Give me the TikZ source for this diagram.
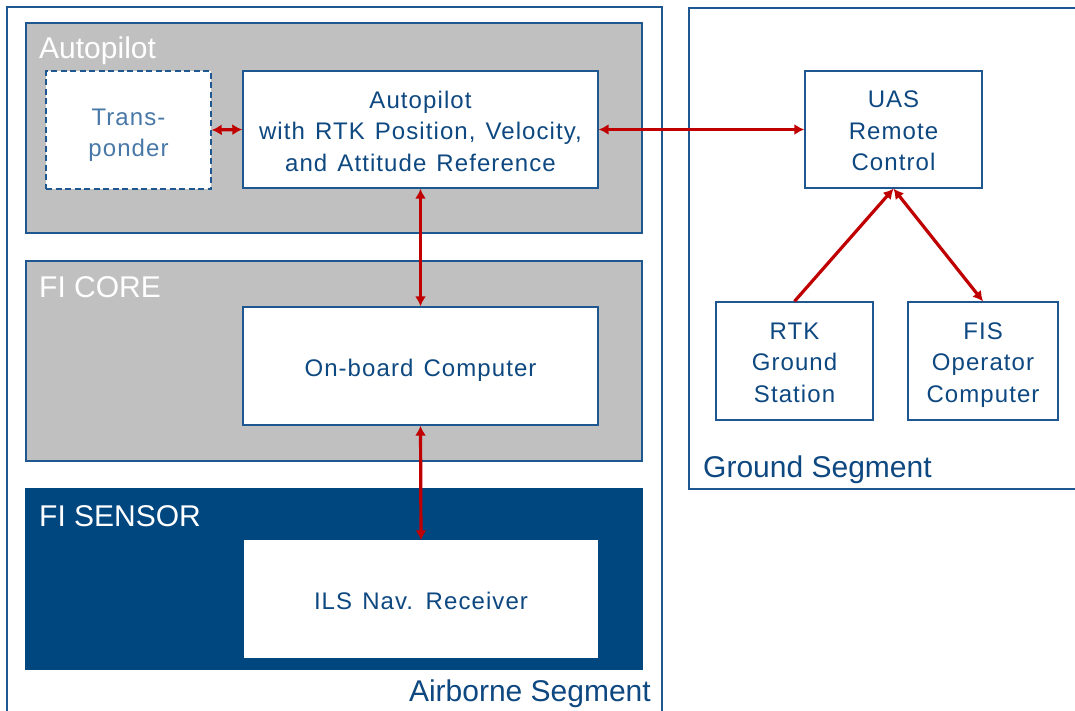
\documentclass[tikz,border=0pt]{standalone}
\usepackage{fontspec}
\setmainfont{Liberation Sans}
\newfontfamily\boxfont[LetterSpace=4.5,WordSpace=1.3]{Liberation Sans}
\usetikzlibrary{arrows.meta}
\definecolor{lineblue}{RGB}{31,88,145}
\definecolor{textblue}{RGB}{14,72,128}
\definecolor{lightblue}{RGB}{72,120,168}
\definecolor{grayfill}{RGB}{192,192,192}
\definecolor{darkfill}{RGB}{0,70,127}
\definecolor{arrowred}{RGB}{192,0,0}
\newcommand\mybstrut{\rule[-7pt]{0pt}{34pt}}
\begin{document}
\begin{tikzpicture}[x=1pt,y=-1pt,
  box/.style={draw=lineblue, line width=1.4pt, fill=white, text=textblue, align=center,
    font=\boxfont\fontsize{24}{31.5}\selectfont, inner sep=0pt,
    execute at begin node=\mybstrut, execute at end node=\mybstrut},
  boxtext/.style={text=textblue, align=center, font=\boxfont\fontsize{24}{31.5}\selectfont,
    inner sep=0pt, yshift=-5pt,
    execute at begin node=\mybstrut, execute at end node=\mybstrut},
  group/.style={draw=lineblue, line width=1.4pt, inner sep=0pt},
  heading/.style={text=white, font=\fontsize{30}{34}\selectfont, inner sep=0pt, anchor=base west},
  seglabel/.style={text=textblue, font=\fontsize{30}{34}\selectfont, inner sep=0pt},
  link/.style={draw=arrowred, line width=3.2pt, {Latex[length=10pt,width=11pt]}-{Latex[length=10pt,width=11pt]}},
  onelink/.style={draw=arrowred, line width=3.2pt, -{Latex[length=10pt,width=11pt]}}
]
\useasboundingbox (0,0) rectangle (1075,710);
\fill[white] (0,0) rectangle (1075,710);
% segment frames
\draw[lineblue, line width=1.4pt] (7,715) -- (7,7) -- (662,7) -- (662,715);
\draw[lineblue, line width=1.4pt] (1080,8) -- (689,8) -- (689,489) -- (1080,489);
% groups
\node[group, fill=grayfill, minimum width=616, minimum height=210] (gap) at (334,128) {};
\node[group, fill=grayfill, minimum width=616, minimum height=200] (gcore) at (334,361) {};
\node[group, draw=darkfill, fill=darkfill, minimum width=616, minimum height=180] (gsens) at (334,579) {};
\node[heading] (hap) at (39,58) {Autopilot};
\node[heading] (hcore) at (39,297) {FI CORE};
\node[heading] (hsens) at (39,526) {FI SENSOR};
\node[seglabel, anchor=base east] (lair) at (651,701) {Airborne Segment};
\node[seglabel, anchor=base west] (lgnd) at (703,477) {Ground Segment};
% boxes
\node[box, dash pattern=on 6pt off 3.5pt, minimum width=165, minimum height=118] (trans) at (128.5,130) {};
\node[boxtext, text=lightblue, yshift=-1pt] (transtxt) at (trans.center) {Trans-\\ponder};
\node[box, minimum width=355, minimum height=117] (ap) at (420.5,129.5) {};
\node[boxtext] (aptxt) at (ap.center) {Autopilot\\with RTK Position, Velocity,\\and Attitude Reference};
\node[box, minimum width=355, minimum height=118] (obc) at (420.5,366) {On-board Computer};
\node[box, draw=white, minimum width=352, minimum height=116] (ils) at (421,599) {ILS Nav. Receiver};
\node[box, minimum width=177, minimum height=117] (uas) at (893.5,129.5) {};
\node[boxtext] (uastxt) at (uas.center) {UAS\\Remote\\Control};
\node[box, minimum width=157, minimum height=118] (rtk) at (794.5,361) {};
\node[boxtext] (rtktxt) at (rtk.center) {RTK\\Ground\\Station};
\node[box, minimum width=150, minimum height=118] (fis) at (983,361) {};
\node[boxtext] (fistxt) at (fis.center) {FIS\\Operator\\Computer};
% connectors
\draw[link] (trans.east) -- (ap.west);
\draw[link] (ap.east) -- (uas.west);
\draw[link] (ap.south) -- (obc.north);
\draw[link] (obc.south) -- (ils.north);
\draw[onelink] (rtk.north) -- (uas.south);
\draw[link] (fis.north) -- (uas.south);
\end{tikzpicture}
\end{document}
